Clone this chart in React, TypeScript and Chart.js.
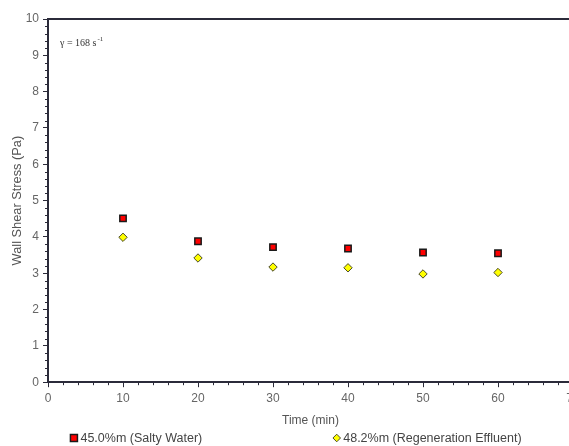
import React, { useEffect, useRef } from "react";
import { Chart, registerables } from "chart.js";
Chart.register(...registerables);

const timeMin = [10, 20, 30, 40, 50, 60];
const saltyWater = [4.51, 3.88, 3.72, 3.68, 3.57, 3.55];
const regenEffluent = [3.99, 3.42, 3.17, 3.15, 2.98, 3.02];
const seriesNames = ["45.0%m (Salty Water)", "48.2%m (Regeneration Effluent)"];
const xTitle = "Time (min)";
const yTitle = "Wall Shear Stress (Pa)";

const FONT = "'Liberation Sans', Arial, sans-serif";

const decorPlugin = {
  id: "decor",
  afterDraw(chart: any) {
    const { ctx, chartArea } = chart;
    const xs = chart.scales.x;
    const ys = chart.scales.y;
    ctx.save();
    ctx.strokeStyle = "#2b2b3a";
    // top border
    ctx.lineWidth = 2;
    ctx.beginPath();
    ctx.moveTo(chartArea.left, chartArea.top);
    ctx.lineTo(chartArea.right, chartArea.top);
    ctx.stroke();
    // minor ticks
    ctx.lineWidth = 1;
    ctx.beginPath();
    for (let v = 0; v <= 10.001; v += 0.2) {
      const r = Math.round(v * 10) / 10;
      if (Math.abs(r - Math.round(r)) < 1e-6) continue;
      const py = Math.round(ys.getPixelForValue(r)) + 0.5;
      ctx.moveTo(chartArea.left - 3, py);
      ctx.lineTo(chartArea.left, py);
    }
    for (let v = 0; v <= 70; v += 2) {
      if (v % 10 === 0) continue;
      const px = Math.round(xs.getPixelForValue(v)) + 0.5;
      ctx.moveTo(px, chartArea.bottom);
      ctx.lineTo(px, chartArea.bottom + 3);
    }
    ctx.stroke();
    // annotation
    ctx.fillStyle = "#333";
    ctx.font = "10px 'Liberation Serif', 'DejaVu Serif', serif";
    ctx.textBaseline = "alphabetic";
    const ax = chartArea.left + 12;
    const ay = chartArea.top + 27;
    const t = "\u03B3 = 168 s";
    ctx.fillText(t, ax, ay);
    const w = ctx.measureText(t).width;
    ctx.font = "7px 'Liberation Serif', 'DejaVu Serif', serif";
    ctx.fillText("-1", ax + w + 1, ay - 5);

    // custom legend
    ctx.font = `12.5px ${FONT}`;
    ctx.textBaseline = "middle";
    const gap = 131;
    const mark = 7;
    const items = chart.data.datasets.map((d: any) => ({
      d,
      w: mark + 3 + ctx.measureText(d.label).width,
    }));
    const total = items.reduce((s: number, it: any) => s + it.w, 0) + gap * (items.length - 1);
    let x = chart.width / 2 - total / 2 + 3;
    const y = chart.height - 8;
    items.forEach((it: any) => {
      const d = it.d;
      const cx = x + mark / 2;
      ctx.fillStyle = d.backgroundColor;
      ctx.strokeStyle = d.borderColor;
      ctx.lineWidth = d.borderWidth;
      ctx.beginPath();
      if (d.pointStyle === "rectRot") {
        const r = 3.8;
        ctx.moveTo(cx, y - r);
        ctx.lineTo(cx + r, y);
        ctx.lineTo(cx, y + r);
        ctx.lineTo(cx - r, y);
        ctx.closePath();
      } else {
        ctx.rect(cx - 3.5, y - 3.5, 7, 7);
      }
      ctx.fill();
      ctx.stroke();
      ctx.fillStyle = "#444";
      ctx.fillText(d.label, x + mark + 3, y + 1);
      x += it.w + gap;
    });
    ctx.restore();
  },
};

export default function App() {
  const ref = useRef<HTMLCanvasElement | null>(null);
  useEffect(() => {
    if (!ref.current) return;
    const chart = new Chart(ref.current, {
      type: "scatter",
      data: {
        datasets: [
          {
            label: seriesNames[0],
            data: timeMin.map((t, i) => ({ x: t, y: saltyWater[i] })),
            pointStyle: "rect",
            pointRadius: 4.5,
            backgroundColor: "#ff0000",
            borderColor: "#1a1a1a",
            borderWidth: 1.5,
          },
          {
            label: seriesNames[1],
            data: timeMin.map((t, i) => ({ x: t, y: regenEffluent[i] })),
            pointStyle: "rectRot",
            pointRadius: 4.2,
            backgroundColor: "#ffff00",
            borderColor: "#4a4a2a",
            borderWidth: 1,
          },
        ],
      },
      options: {
        animation: false,
        responsive: false,
        maintainAspectRatio: false,
        layout: { padding: { left: 0, right: 13, top: 19, bottom: 18 } },
        plugins: {
          tooltip: { enabled: false },
          legend: { display: false },
        },
        scales: {
          x: {
            type: "linear",
            min: 0,
            max: 70,
            ticks: {
              stepSize: 10,
              autoSkip: false,
              color: "#666",
              padding: 4,
              font: { family: FONT, size: 12 },
            },
            grid: { drawOnChartArea: false, drawTicks: true, tickLength: 5, color: "#2b2b3a" },
            border: { display: true, color: "#2b2b3a", width: 2 },
            title: {
              display: true,
              text: xTitle,
              color: "#555",
              padding: { top: 4, bottom: 0 },
              font: { family: FONT, size: 12 },
            },
          },
          y: {
            type: "linear",
            min: 0,
            max: 10,
            afterFit: (s: any) => {
              s.width = 48;
            },
            ticks: {
              stepSize: 1,
              autoSkip: false,
              color: "#666",
              padding: 4,
              font: { family: FONT, size: 12 },
            },
            grid: { drawOnChartArea: false, drawTicks: true, tickLength: 5, color: "#2b2b3a" },
            border: { display: true, color: "#2b2b3a", width: 2 },
            title: {
              display: true,
              text: yTitle,
              color: "#555",
              padding: { top: 10, bottom: 0 },
              font: { family: FONT, size: 12.8 },
            },
          },
        },
      },
      plugins: [decorPlugin],
    });
    return () => chart.destroy();
  }, []);
  return (
    <div style={{ position: "absolute", left: 0, top: 0, width: 569, height: 446, overflow: "hidden", background: "#fff" }}>
      <canvas ref={ref} width={586} height={446} style={{ display: "block" }} />
    </div>
  );
}
